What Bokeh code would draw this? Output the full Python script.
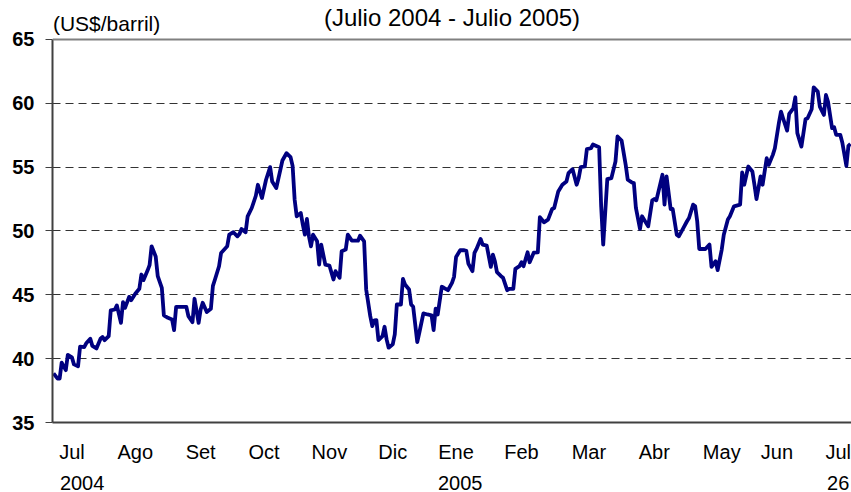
from bokeh.plotting import figure
from bokeh.models import Range1d, FixedTicker, LinearAxis, Span, Label
from bokeh.embed import file_html
from bokeh.resources import INLINE

# Days since 2004-07-01 and price (US$/barril)
dias = [0, 2, 3, 4, 6, 7, 9, 10, 12, 13, 15, 16, 18, 19, 21, 23, 24, 25, 27, 28,
        30, 31, 33, 34, 35, 37, 38, 40, 42, 43, 44, 46, 47, 48, 50, 51, 53, 54, 56, 58,
        59, 60, 62, 65, 66, 68, 69, 71, 72, 73, 75, 77, 78, 79, 81, 82, 85, 86, 88, 90,
        91, 92, 94, 95, 97, 99, 100, 102, 104, 106, 107, 109, 111, 112, 114, 116, 117, 118, 119, 121,
        122, 123, 124, 125, 126, 127, 129, 130, 131, 133, 135, 137, 138, 140, 141, 143, 144, 146, 149, 150,
        152, 153, 155, 156, 157, 158, 159, 161, 162, 163, 164, 166, 167, 168, 170, 171, 172, 174, 175, 176,
        178, 179, 181, 183, 185, 186, 187, 188, 190, 191, 193, 195, 196, 197, 199, 201, 202, 203, 205, 206,
        207, 209, 210, 212, 214, 215, 216, 217, 219, 220, 222, 223, 225, 226, 228, 229, 230, 232, 233, 235,
        237, 238, 240, 242, 244, 245, 247, 249, 251, 252, 254, 256, 257, 258, 260, 261, 263, 264, 267, 268,
        269, 271, 273, 275, 276, 278, 280, 281, 283, 284, 285, 287, 288, 291, 293, 294, 295, 298, 299, 300,
        302, 303, 305, 306, 308, 310, 311, 313, 314, 315, 316, 319, 321, 322, 324, 325, 327, 328, 330, 331,
        333, 336, 337, 338, 340, 342, 343, 344, 346, 347, 349, 350, 352, 353, 355, 356, 357, 359, 360, 362,
        363, 364, 366, 368, 369, 371, 372, 374, 375, 377, 378, 379, 381, 382, 383, 385, 386, 388, 389, 390]

precio = [38.85, 38.44, 38.44, 39.69, 39.10, 40.30, 40.10, 39.55, 39.40, 40.94,
          40.90, 41.20, 41.56, 41.00, 40.80, 41.56, 41.70, 41.45, 41.77, 43.78,
          43.85, 44.17, 42.80, 44.43, 43.98, 44.84, 44.58, 45.08, 45.47, 46.59,
          46.15, 46.90, 47.32, 48.80, 48.00, 46.46, 45.55, 43.39, 43.20, 43.07,
          42.24, 44.06, 44.06, 44.06, 43.33, 42.86, 44.69, 42.80, 43.85, 44.38,
          43.65, 43.90, 45.70, 46.20, 47.24, 48.28, 48.80, 49.71, 49.90, 49.58,
          49.77, 50.16, 49.90, 51.15, 51.80, 52.76, 53.62, 52.58, 54.01, 55.00,
          53.88, 53.36, 54.79, 55.52, 56.09, 55.78, 55.10, 52.45, 51.15, 51.41,
          50.50, 49.71, 50.94, 49.58, 48.80, 49.71, 49.19, 47.37, 48.93, 47.37,
          47.29, 46.20, 46.85, 46.33, 48.41, 48.54, 49.71, 49.24, 49.24, 49.63,
          49.19, 45.42, 43.33, 42.55, 43.00, 43.02, 41.46, 41.77, 42.50, 41.51,
          40.86, 41.12, 41.90, 44.24, 44.24, 46.25, 45.81, 45.42, 44.24, 44.06,
          41.30, 42.03, 43.54, 43.46, 43.39, 42.24, 43.91, 43.46, 45.63, 45.55,
          45.36, 45.94, 46.41, 47.97, 48.49, 48.49, 48.44, 47.45, 46.85, 48.28,
          48.59, 49.38, 48.93, 48.85, 47.19, 48.15, 47.63, 46.77, 46.46, 46.33,
          45.36, 45.47, 45.47, 47.03, 47.24, 47.55, 47.24, 48.33, 47.55, 48.30,
          48.33, 51.09, 50.68, 50.89, 51.72, 51.80, 53.10, 53.62, 53.88, 54.53,
          54.84, 53.62, 54.14, 55.00, 55.05, 56.41, 56.48, 56.77, 56.56, 51.93,
          48.93, 54.06, 54.14, 55.44, 57.40, 57.08, 55.18, 54.01, 53.80, 53.75,
          51.80, 50.16, 51.15, 50.36, 52.40, 52.50, 52.40, 54.40, 52.06, 54.27,
          51.72, 51.72, 49.71, 49.58, 50.16, 50.76, 51.02, 52.06, 51.93, 50.76,
          48.59, 48.59, 48.93, 47.19, 47.63, 46.93, 48.54, 49.71, 50.89, 51.15,
          51.93, 52.06, 54.58, 53.62, 55.05, 54.66, 53.62, 52.50, 54.27, 53.62,
          55.70, 55.18, 55.96, 56.48, 58.49, 59.35, 58.83, 57.86, 59.17, 59.61,
          60.47, 57.66, 56.61, 58.75, 58.83, 59.53, 61.25, 60.91, 59.74, 59.09,
          60.65, 60.13, 58.05, 58.13, 57.53, 57.53, 56.93, 55.10, 56.67, 56.82]

meses = ["Jul", "Ago", "Set", "Oct", "Nov", "Dic", "Ene", "Feb", "Mar", "Abr", "May", "Jun", "Jul"]
meses_pos = [9, 40, 72, 103, 135, 166, 197, 229, 262, 294, 327, 354, 384]
anios = ["2004", "2005", "26"]
anios_pos = [14, 199, 384]
y_ticks = [35, 40, 45, 50, 55, 60, 65]
grid_ticks = [40, 45, 50, 55, 60]

FONT = "Liberation Sans"

# frame spans full height above the x axes; the y axis is bounded to 35-65
p = figure(width=851, height=492, output_backend="svg", toolbar_location=None,
           x_range=Range1d(-0.5, 390.5), y_range=Range1d(35, 68.05),
           min_border_left=52, min_border_right=0, min_border_top=0, min_border_bottom=69)
p.outline_line_color = None
p.background_fill_color = "white"
p.border_fill_color = "white"

p.line(dias, precio, line_color="#000080", line_width=3.8, line_join="round")

# y axis
p.yaxis.bounds = (35, 65)
p.yaxis.ticker = FixedTicker(ticks=y_ticks)
p.yaxis.axis_line_color = "#404040"
p.yaxis.axis_line_width = 2
p.yaxis.major_tick_line_color = "#404040"
p.yaxis.major_tick_line_width = 1
p.yaxis.major_tick_out = 7
p.yaxis.major_tick_in = 0
p.yaxis.minor_tick_line_color = None
p.yaxis.major_label_standoff = 11
p.yaxis.major_label_text_font = FONT
p.yaxis.major_label_text_font_size = "20px"
p.yaxis.major_label_text_font_style = "bold"
p.yaxis.major_label_text_color = "black"

# x axis (months)
p.xaxis.ticker = FixedTicker(ticks=meses_pos)
p.xaxis.major_label_overrides = {t: m for t, m in zip(meses_pos, meses)}
p.xaxis.axis_line_color = "#404040"
p.xaxis.axis_line_width = 2
p.xaxis.major_tick_line_color = None
p.xaxis.minor_tick_line_color = None
p.xaxis.major_tick_out = 0
p.xaxis.major_tick_in = 0
p.xaxis.major_label_standoff = 18
p.xaxis.major_label_text_font = FONT
p.xaxis.major_label_text_font_size = "20px"
p.xaxis.major_label_text_color = "black"

# second row (years)
ax2 = LinearAxis(ticker=FixedTicker(ticks=anios_pos),
                 major_label_overrides={t: a for t, a in zip(anios_pos, anios)})
ax2.axis_line_color = None
ax2.major_tick_line_color = None
ax2.minor_tick_line_color = None
ax2.major_tick_out = 0
ax2.major_tick_in = 0
ax2.major_label_standoff = 10
ax2.major_label_text_font = FONT
ax2.major_label_text_font_size = "20px"
ax2.major_label_text_color = "black"
p.add_layout(ax2, "below")

# grid
p.xgrid.visible = False
p.ygrid.ticker = FixedTicker(ticks=grid_ticks)
p.ygrid.grid_line_color = "#333333"
p.ygrid.grid_line_width = 1
p.ygrid.grid_line_dash = "8 5"

# top border line
p.add_layout(Span(location=65, dimension="width", line_color="#808080", line_width=2))

# titles (inside the extended frame)
p.add_layout(Label(x=195.0, y=66.68, text="(Julio 2004 - Julio 2005)", text_align="center",
                   text_baseline="middle", text_font=FONT, text_font_size="24px",
                   text_color="black"))
p.add_layout(Label(x=-0.3, y=66.25, text="(US$/barril)", text_align="left",
                   text_baseline="middle", text_font=FONT, text_font_size="21px",
                   text_color="black"))

open("out.html", "w").write(file_html(p, INLINE))
